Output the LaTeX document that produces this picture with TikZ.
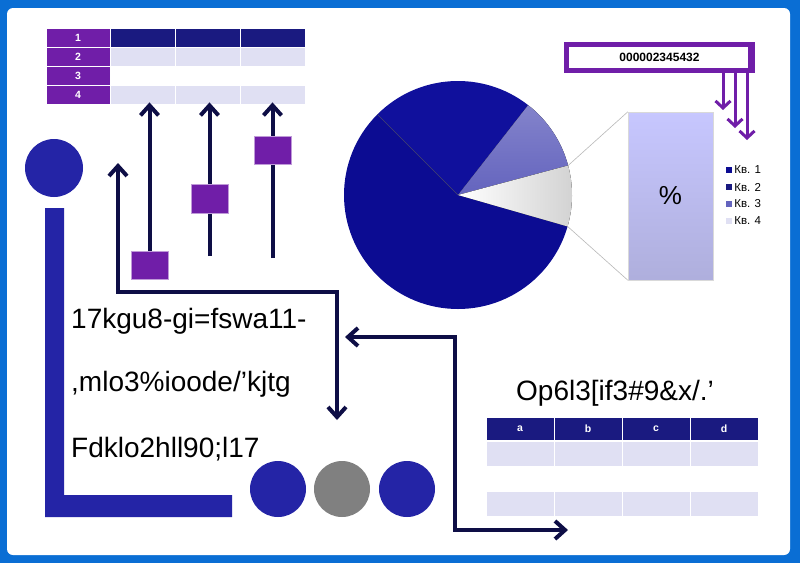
\documentclass[tikz,border=0pt]{standalone}
\usepackage{fontspec}
\setmainfont{Liberation Sans}
\usetikzlibrary{arrows.meta,positioning}
\definecolor{frameblue}{RGB}{10,110,212}
\definecolor{navy}{RGB}{14,14,70}
\definecolor{royal}{RGB}{36,36,166}
\definecolor{plum}{RGB}{112,30,168}
\definecolor{headblue}{RGB}{26,26,128}
\definecolor{lilac}{RGB}{224,224,243}
\definecolor{piedark}{RGB}{12,12,146}
\definecolor{pietop}{RGB}{16,16,156}
\definecolor{piemid}{RGB}{100,100,190}
\begin{document}
\begin{tikzpicture}[x=1pt,y=-1pt,
  cell/.style={
    draw=white, line width=0.8pt, inner sep=0pt,
    text=white, font=\bfseries\fontsize{10.5}{10.5}\selectfont
  },
  numcell/.style={cell, fill=plum, minimum width=64pt, minimum height=19pt},
  datacell/.style={cell, minimum width=65pt, minimum height=19pt},
  headcell/.style={cell, fill=headblue, minimum width=68pt, minimum height=23pt},
  bodycell/.style={cell, minimum width=68pt, minimum height=25pt},
  marker/.style={
    fill=plum, draw=plum!45!white, line width=0.6pt,
    minimum width=37pt, minimum height=28pt, inner sep=0pt
  },
  disc/.style={circle, fill=royal, minimum size=56pt, inner sep=0pt},
  bigtext/.style={font=\fontsize{28}{30}\selectfont, inner sep=0pt, anchor=base west},
  link/.style={
    draw=navy, line width=4pt,
    {Straight Barb[length=10pt,width=18pt]}-{Straight Barb[length=10pt,width=18pt]}
  },
  rise/.style={draw=navy, line width=4pt, -{Straight Barb[length=10pt,width=18pt]}},
  drop/.style={draw=plum, line width=3pt, -{Straight Barb[length=7pt,width=15pt]}},
  numbox/.style={
    draw=plum, line width=5pt, fill=white, minimum width=186pt,
    minimum height=26pt, font=\bfseries\fontsize{12}{12}\selectfont
  },
  keybox/.style={fill=#1, minimum size=6pt, inner sep=0pt},
  keytext/.style={font=\fontsize{11.5}{12}\selectfont, inner sep=0pt}
  ]
  \fill[frameblue] (0,0) rectangle (800,563);
  \fill[white, rounded corners=6pt] (7,8) rectangle (790,555);

  \foreach \r/\f in {1/headblue,2/lilac,3/white,4/lilac}{
    \node[numcell] (n\r) at (78,18.5+19*\r) {\r};
    \foreach \c in {1,2,3}
      \node[datacell, fill=\f] (t\r\c) at (77.5+65*\c,18.5+19*\r) {};
  }

  \coordinate (s1) at (149.5,252);
  \coordinate (s2) at (209.5,256);
  \coordinate (s3) at (272.5,258);
  \foreach \i in {1,2,3}
    \draw[rise, shorten >=-2pt] (s\i) -- (s\i |- t4\i.south);
  \node[marker] (m1) at (149.5,265.5) {};
  \node[marker, minimum height=29pt] (m2) at (209.5,198.5) {};
  \node[marker] (m3) at (272.5,150) {};

  \node[disc, minimum size=58pt] (d0) at (54,168) {};
  \fill[royal] (45,208) -- (64,208) -- (64,495) -- (232,495)
    -- (232,517) -- (45,517) -- cycle;

  \node[bigtext] (l1) at (71,328) {17kgu8-gi=fswa11-};
  \node[bigtext] (l2) at (71,391) {,mlo3\%ioode/’kjtg};
  \node[bigtext] (l3) at (71,457) {Fdklo2hll90;l17};

  \coordinate (c1) at (118,163);
  \coordinate (c2) at (337,292);
  \coordinate (c3) at (337,420);
  \draw[link] (c1) |- (c2) -- (c3);

  \coordinate (c4) at (345,337);
  \coordinate (c5) at (455,530);
  \coordinate (c6) at (568,530);
  \draw[link] (c4) -| (c5) -- (c6);

  \node[disc] (d1) at (278,489) {};
  \node[disc, fill=gray] (d2) at (342,489) {};
  \node[disc] (d3) at (407,489) {};

  \begin{scope}[shift={(458,195)}, yscale=-1]
    \fill[piedark] (0,0) -- (135:114) arc (135:344:114) -- cycle;
    \fill[pietop] (0,0) -- (52:114) arc (52:135:114) -- cycle;
    \draw[navy!80, line width=0.6pt] (0,0) -- (135:114);
    \fill[top color=piemid!80!white, bottom color=piemid] (0,0) -- (15:114) arc (15:52:114) -- cycle;
    \fill[left color=white, right color=gray!35] (0,0) -- (-16:114) arc (-16:15:114) -- cycle;
    \coordinate (p1) at (15:114);
    \coordinate (p2) at (-16:114);
  \end{scope}

  \node[draw=gray!30, top color=blue!22!white, bottom color=blue!40!gray!45,
    minimum width=85pt, minimum height=168pt, inner sep=0pt,
    font=\fontsize{26}{26}\selectfont] (bar) at (670.5,196) {\%};
  \draw[gray!55, line width=0.6pt] (p1) -- (bar.north west) (p2) -- (bar.south west);

  \foreach \q/\f in {1/piedark,2/headblue,3/piemid,4/lilac}{
    \node[keybox=\f] (k\q) at (729,153+17*\q) {};
    \node[keytext, right=2pt of k\q] (kt\q) {Кв. \q};
  }

  \node[numbox] (num) at (659.5,57.5) {000002345432};
  \draw[plum, line width=1.2pt] (749,46) -- (749,69);
  \foreach \x/\y in {723/110,735/128,747/140}
    \draw[drop] (num.south -| \x,0) -- (\x,\y);

  \node[bigtext] (op) at (516,400) {Op6l3[if3\#9\&x/.’};
  \foreach \l [count=\c] in {a,b,c,d}{
    \node[headcell] (h\c) at (452+68*\c,428.5) {\l};
    \foreach \r/\f in {2/lilac,3/white,4/lilac}
      \node[bodycell, fill=\f] (b\r\c) at (452+68*\c,403.5+25*\r) {};
  }
\end{tikzpicture}
\end{document}
